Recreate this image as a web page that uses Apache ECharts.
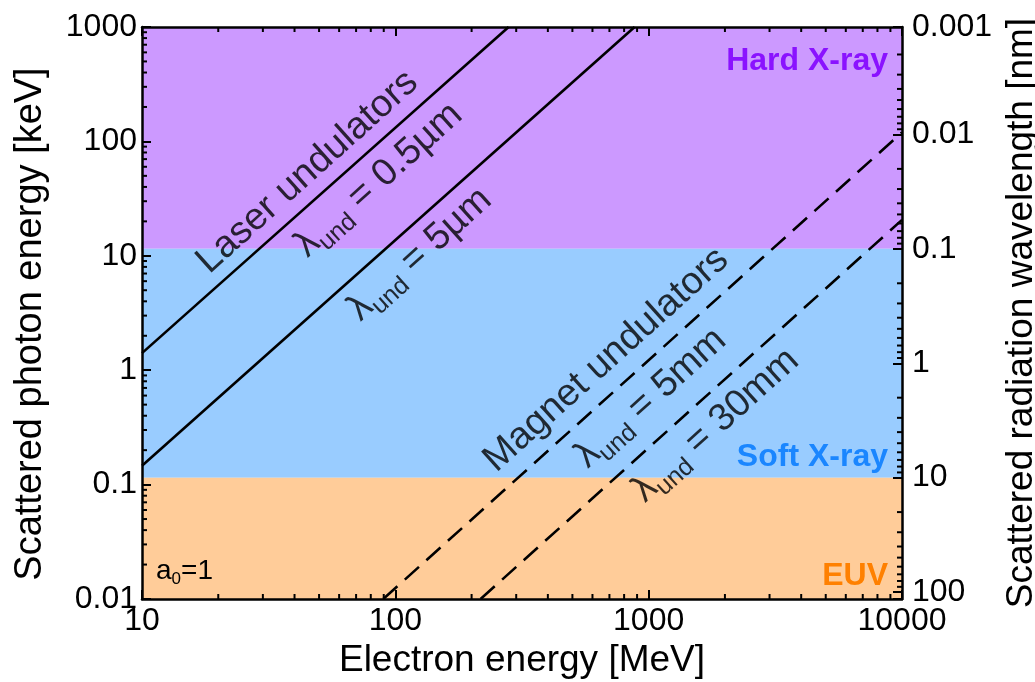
<!DOCTYPE html>
<html>
<head>
<meta charset="utf-8">
<script src="https://cdn.jsdelivr.net/npm/echarts@6/dist/echarts.min.js"></script>
<style>
  html, body { margin: 0; padding: 0; background: #ffffff; overflow: hidden; }
  #chart { width: 1035px; height: 682px; }
</style>
</head>
<body>
<div id="chart"></div>
<script>
// Undulator lines: [electron energy MeV, scattered photon energy keV] at their two ends
const laser05 = [[10, 1.41], [280, 1000]];
const laser5 = [[10, 0.146], [880, 1000]];
const magnet5 = [[89.6, 0.01], [10000, 120]];
const magnet30 = [[217, 0.01], [10000, 20.6]];

// Spectral regions, bounded in wavelength [nm]
const bandNames = ['Hard X-ray', 'Soft X-ray', 'EUV'];
const bandFromNm = [0.0001, 0.1, 10];
const bandToNm = [0.1, 10, 100000];

// Tick labels
const xTicks = [10, 100, 1000, 10000];
const yTicks = [0.01, 0.1, 1, 10, 100, 1000];
const lambdaTicks = [0.001, 0.01, 0.1, 1, 10, 100];

// photon energy [keV] * wavelength [nm] used by the right-hand axis
const hcKeVnm = 1.15;

const FONT = "'Liberation Sans', Arial, Helvetica, sans-serif";
const bandFill = ['#cc99ff', '#99ccff', '#ffcc99'];
const bandText = ['#8a12ff', '#1a86ff', '#ff8000'];

const E_MIN = yTicks[0], E_MAX = yTicks[yTicks.length - 1];

function sameLog(a, b) { return Math.abs(Math.log10(a) - Math.log10(b)) < 1e-6; }
function tickText(list) {
  return v => { const t = list.find(x => sameLog(x, v)); return t === undefined ? '' : String(t); };
}

// minor ticks (2..9 in every decade)
const minorData = [];
xTicks.slice(0, -1).forEach(d => { for (let m = 2; m <= 9; m++) minorData.push([d * m, 1, 0]); });
yTicks.slice(0, -1).forEach(d => { for (let m = 2; m <= 9; m++) minorData.push([10, d * m, 1]); });
lambdaTicks.slice(0, -1).forEach(d => {
  for (let m = 2; m <= 9; m++) {
    const e = hcKeVnm / (d * m);
    if (e > E_MIN && e < E_MAX) minorData.push([10, e, 2]);
  }
});

const bandData = bandNames.map((n, i) => [10, bandFromNm[i], bandToNm[i], i]);

const axisLineStyle = { color: '#000', width: 2.5 };
const majorTick = { show: true, inside: true, length: 9, lineStyle: { color: '#000', width: 2 } };
const titleStyle = { fontSize: 37, color: '#000', fontFamily: FONT };

function note(pos, text, isSub) {
  const item = { value: pos, label: { show: true } };
  if (isSub) {
    item.label.formatter = '{m|λ}{s|und}{m|' + text + '}';
    item.label.rich = {
      m: { fontSize: 38, fontFamily: FONT, color: '#000' },
      s: { fontSize: 25, fontFamily: FONT, color: '#000', lineHeight: 25, padding: [23, 0, 0, 0] }
    };
  } else {
    item.label.formatter = text;
    item.label.fontSize = 38;
  }
  return item;
}

const chart = echarts.init(document.getElementById('chart'), null, { renderer: 'canvas' });

const option = {
  animation: false,
  backgroundColor: '#ffffff',
  textStyle: { fontFamily: FONT, color: '#000' },
  grid: { left: 142, right: 133, top: 27, bottom: 83, containLabel: false, outerBoundsMode: 'none' },
  xAxis: [
    {
      type: 'log', logBase: 10, min: xTicks[0], max: xTicks[xTicks.length - 1], position: 'bottom', z: 10,
      name: 'Electron energy [MeV]', nameLocation: 'middle', nameGap: 43,
      nameTextStyle: titleStyle,
      axisLine: { show: true, lineStyle: axisLineStyle },
      axisTick: majorTick,
      axisLabel: { fontSize: 32, color: '#000', margin: 6, formatter: tickText(xTicks), showMinLabel: true, showMaxLabel: true },
      splitLine: { show: false }
    },
    {
      type: 'log', logBase: 10, min: xTicks[0], max: xTicks[xTicks.length - 1], position: 'top', z: 10,
      axisLine: { show: true, lineStyle: axisLineStyle },
      axisTick: majorTick,
      axisLabel: { show: false },
      splitLine: { show: false }
    }
  ],
  yAxis: [
    {
      type: 'log', logBase: 10, min: E_MIN, max: E_MAX, position: 'left', z: 10,
      name: 'Scattered photon energy [keV]', nameLocation: 'middle', nameGap: 92, nameRotate: 90,
      nameTextStyle: { fontSize: 38, color: '#000', fontFamily: FONT, padding: [0, 22, 0, 0] },
      axisLine: { show: true, lineStyle: axisLineStyle },
      axisTick: majorTick,
      axisLabel: { fontSize: 32, color: '#000', margin: 5, formatter: tickText(yTicks), showMinLabel: true, showMaxLabel: true },
      splitLine: { show: false }
    },
    {
      type: 'log', logBase: 10, inverse: true, min: hcKeVnm / E_MAX, max: hcKeVnm / E_MIN, position: 'right', z: 10,
      name: 'Scattered radiation wavelength [nm]', nameLocation: 'middle', nameGap: 90, nameRotate: 90,
      nameTextStyle: titleStyle,
      axisLine: { show: true, lineStyle: axisLineStyle },
      axisTick: majorTick,
      axisLabel: {
        fontSize: 32, color: '#000', margin: 10, showMinLabel: true, showMaxLabel: true,
        formatter: v => {
          const t = lambdaTicks.find(x => sameLog(x, v));
          if (t !== undefined) return String(t);
          return v < lambdaTicks[1] ? String(lambdaTicks[0]) : '';
        }
      },
      splitLine: { show: false }
    }
  ],
  series: [
    {
      type: 'custom', name: 'bands', xAxisIndex: 0, yAxisIndex: 1, z: 1, silent: true,
      encode: { x: 0, y: 1 },
      data: bandData,
      renderItem: (params, api) => {
        const cs = params.coordSys;
        const a = api.coord([10, api.value(1)])[1];
        const b = api.coord([10, api.value(2)])[1];
        const top = Math.max(cs.y, Math.min(a, b));
        const bot = Math.min(cs.y + cs.height, Math.max(a, b));
        return {
          type: 'rect',
          shape: { x: cs.x, y: top, width: cs.width, height: bot - top },
          style: { fill: bandFill[api.value(3)] }
        };
      }
    },
    {
      type: 'line', name: 'λund = 0.5µm', data: laser05, showSymbol: false, silent: true, z: 3,
      lineStyle: { color: '#000', width: 2.6 }
    },
    {
      type: 'line', name: 'λund = 5µm', data: laser5, showSymbol: false, silent: true, z: 3,
      lineStyle: { color: '#000', width: 2.6 }
    },
    {
      type: 'line', name: 'λund = 5mm', data: magnet5, showSymbol: false, silent: true, z: 3,
      lineStyle: { color: '#000', width: 2.6, type: [19, 10] }
    },
    {
      type: 'line', name: 'λund = 30mm', data: magnet30, showSymbol: false, silent: true, z: 3,
      lineStyle: { color: '#000', width: 2.6, type: [19, 10] }
    },
    {
      type: 'custom', name: 'minor ticks', xAxisIndex: 0, yAxisIndex: 0, z: 4, silent: true,
      encode: { x: 0, y: 1 },
      data: minorData,
      renderItem: (params, api) => {
        const cs = params.coordSys;
        const kind = api.value(2);
        const p = api.coord([api.value(0), api.value(1)]);
        const L = 5;
        const style = { stroke: '#000', lineWidth: 2 };
        if (kind === 0) {
          return {
            type: 'group', children: [
              { type: 'line', shape: { x1: p[0], y1: cs.y + cs.height, x2: p[0], y2: cs.y + cs.height - L }, style },
              { type: 'line', shape: { x1: p[0], y1: cs.y, x2: p[0], y2: cs.y + L }, style }
            ]
          };
        }
        if (kind === 1) {
          return { type: 'line', shape: { x1: cs.x, y1: p[1], x2: cs.x + L, y2: p[1] }, style };
        }
        return { type: 'line', shape: { x1: cs.x + cs.width, y1: p[1], x2: cs.x + cs.width - L, y2: p[1] }, style };
      }
    },
    {
      type: 'scatter', name: 'notes', z: 6, silent: true,
      symbolSize: 1, itemStyle: { color: 'rgba(0,0,0,0)' },
      label: {
        show: true, position: 'inside', rotate: 42, color: '#000', fontFamily: FONT,
        align: 'center', verticalAlign: 'middle', textBorderWidth: 0
      },
      data: [
        note([45, 54], 'Laser undulators', false),
        note([86, 46], ' = 0.5µm', true),
        note([125, 10.3], ' = 5µm', true),
        note([680, 1.23], 'Magnet undulators', false),
        note([1020, 0.57], ' = 5mm', true),
        note([1840, 0.33], ' = 30mm', true)
      ]
    }
  ],
  graphic: [
    { type: 'text', x: 888, y: 61, z: 20, silent: true,
      style: { text: bandNames[0], fill: bandText[0], font: 'bold 32px ' + FONT, align: 'right', verticalAlign: 'middle' } },
    { type: 'text', x: 888, y: 457, z: 20, silent: true,
      style: { text: bandNames[1], fill: bandText[1], font: 'bold 32px ' + FONT, align: 'right', verticalAlign: 'middle' } },
    { type: 'text', x: 888, y: 576, z: 20, silent: true,
      style: { text: bandNames[2], fill: bandText[2], font: 'bold 32px ' + FONT, align: 'right', verticalAlign: 'middle' } },
    { type: 'text', x: 156, y: 571, z: 20, silent: true,
      style: {
        text: '{m|a}{s|0}{m|=1}', align: 'left', verticalAlign: 'middle',
        rich: {
          m: { fontSize: 28, fontFamily: FONT, fill: '#000' },
          s: { fontSize: 17, fontFamily: FONT, fill: '#000', lineHeight: 17, padding: [17, 0, 0, 0] }
        }
      } }
  ]
};

chart.setOption(option);
</script>
</body>
</html>
